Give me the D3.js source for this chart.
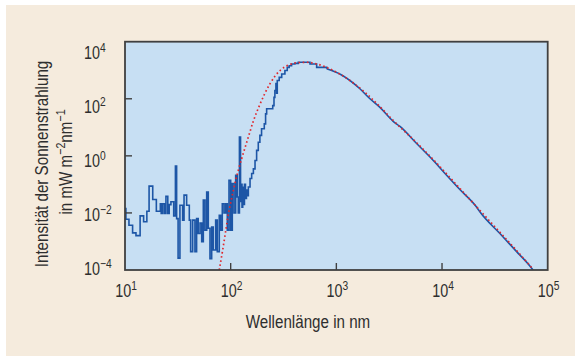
<!DOCTYPE html>
<html><head><meta charset="utf-8">
<script src="https://cdn.jsdelivr.net/npm/d3@7"></script>
<style>
html,body{margin:0;padding:0;background:#fff;}
svg{display:block;}
text{font-family:"Liberation Sans","Arial",sans-serif;fill:#2e2e2e;}
</style>
</head><body>
<svg id="c" width="575" height="356"></svg>
<script>
// ---- data (wavelength in nm, intensity in mW m^-2 nm^-1) ----
const xTickExponents = [1, 2, 3, 4, 5];
const yTickExponents = [4, 2, 0, -2, -4];
const xTitle = "Wellenlänge in nm";
const yTitleLine1 = "Intensität der Sonnenstrahlung";

// measured solar spectrum, step-wise part (UV / visible)
const stepWavelengths = [10, 10.2, 10.9, 11.8, 12.7, 13.9, 15.0, 16.1, 16.9, 18.3, 19.8, 21.6, 22.0, 22.7, 23.6, 24.4, 25.4, 26.2, 27.2, 28.9,
  30.0, 30.8, 31.8, 33.1, 35.1, 36.2, 38.3, 40.6, 41.8, 43.7, 45.9, 47.6, 49.3, 51.3, 53.2, 55.1, 57.1, 59.3, 61.4, 63.7,
  66.1, 68.4, 72.1, 74.7, 78.0, 80.4, 83.3, 86.5, 89.7, 92.9, 96.4, 100, 103.6, 107.5, 111.5, 115.3, 118, 121, 124, 126,
  128, 130, 132, 135, 138, 141, 144, 147, 152.5, 158, 164, 170, 176, 182.5, 189, 196, 208, 214, 219, 250,
  257, 262, 268, 272, 276, 288, 304, 326, 343, 358, 377, 405, 436, 563, 651, 810];
const stepValues = [1.41e-2, 6.0e-3, 3.7e-3, 2.0e-3, 1.6e-3, 7.9e-3, 4.9e-3, 1.15e-2, 8.7e-2, 2.95e-2, 1.15e-2, 2.1e-2, 9.5e-3, 2.1e-2, 9.5e-3, 3.8e-2, 9.5e-3, 1.95e-2, 2.45e-2, 7.9e-3,
  0.44, 6.3e-3, 2.6e-4, 1.86e-2, 5.6e-3, 4.2e-2, 1.86e-2, 5.6e-3, 4.4e-4, 5.6e-3, 4.4e-4, 6.3e-3, 1.9e-3, 4.4e-3, 9.8e-4, 2.8e-2, 2.5e-3, 5.4e-2, 2.9e-3, 2.5e-4,
  3.2e-3, 5.0e-4, 5.6e-3, 4.4e-4, 8.3e-3, 2.5e-3, 2.1e-2, 1.0e-2, 2.1e-2, 2.5e-3, 0.138, 2.5e-3, 0.107, 1.0e-2, 0.21, 3.6e-2, 1.0e-2, 4.6, 2.5e-2, 0.1,
  1.6e-2, 7.9e-2, 2.0e-2, 0.1, 3.2e-2, 6.3e-2, 4.0e-2, 8.1e-2, 0.16, 0.24, 0.35, 0.69, 1.55, 3.0, 5.2, 8.9, 13.2, 29.5, 44.7, 57.5,
  112, 195, 339, 158, 437, 562, 741, 977, 1259, 1445, 1660, 1738, 1905, 1660, 1259, 1122];

// measured solar spectrum, smooth infrared tail
const tailWavelengths = [810, 1100, 1670, 2080, 2585, 3450, 4000, 5750, 8260, 11050, 14750, 21200, 22800, 35300, 50800, 70500, 72500];
const tailValues = [1122, 708, 224, 100, 50, 16.2, 10.7, 2.7, 0.69, 0.21, 0.066, 0.0162, 0.011, 0.0019, 4.4e-4, 1.15e-4, 1.0e-4];

// black body comparison curve (dotted)
const bbWavelengths = [78, 84, 90, 95, 100, 106, 118, 127, 147, 164, 189, 235, 293, 364, 421, 523, 651, 936, 1345, 1936, 2585, 3450, 5750, 8260, 14750, 22800, 35300, 50800, 73000];
const bbValues = [1.0e-4, 5.0e-4, 2.5e-3, 8.9e-3, 2.24e-2, 6.2e-2, 0.31, 0.79, 4.57, 16.6, 63, 331, 977, 1585, 1820, 1905, 1660, 977, 437, 148, 52.5, 17.4, 2.88, 0.74, 0.072, 0.0123, 2.1e-3, 4.8e-4, 1.05e-4];

// ---- drawing ----
const svg = d3.select("#c");
const W = 575, H = 356;
const plot = {left: 125, right: 547.7, top: 41.7, bottom: 270};
const NARROW = 0.82; // horizontal squeeze to imitate a condensed face

const x = d3.scaleLog().domain([1e1, 1e5]).range([plot.left, plot.right]);
const y = d3.scaleLog().domain([1e-4, 1e4]).range([plot.bottom, plot.top]);
// label placement scale for the y tick labels
const yLab = d3.scaleLog().domain([1e-4, 1e4]).range([269, 53]);

svg.append("rect").attr("x", 6).attr("y", 5).attr("width", W - 6).attr("height", H - 5).attr("fill", "#f5ebdd");
svg.append("rect").attr("x", plot.left).attr("y", plot.top)
  .attr("width", plot.right - plot.left).attr("height", plot.bottom - plot.top).attr("fill", "#c7dff3");

svg.append("clipPath").attr("id", "clip").append("rect")
  .attr("x", plot.left).attr("y", plot.top)
  .attr("width", plot.right - plot.left).attr("height", plot.bottom - plot.top);

const g = svg.append("g").attr("clip-path", "url(#clip)");

const stepData = stepWavelengths.map((w, i) => [w, stepValues[i]]);
const tailData = tailWavelengths.map((w, i) => [w, tailValues[i]]);
const bbData = bbWavelengths.map((w, i) => [w, bbValues[i]]);

g.append("path").datum(stepData)
  .attr("d", d3.line().x(d => x(d[0])).y(d => y(d[1])).curve(d3.curveStepAfter))
  .attr("fill", "none").attr("stroke", "#1d56a6").attr("stroke-width", 1.6).attr("stroke-linejoin", "miter");
g.append("path").datum(tailData)
  .attr("d", d3.line().x(d => x(d[0])).y(d => y(d[1])).curve(d3.curveMonotoneX))
  .attr("fill", "none").attr("stroke", "#1d56a6").attr("stroke-width", 1.6);
g.append("path").datum(bbData)
  .attr("d", d3.line().x(d => x(d[0])).y(d => y(d[1])).curve(d3.curveMonotoneX))
  .attr("fill", "none").attr("stroke", "#e0262b").attr("stroke-width", 1.7).attr("stroke-dasharray", "1.6,2.6");

// frame
svg.append("rect").attr("x", plot.left).attr("y", plot.top)
  .attr("width", plot.right - plot.left).attr("height", plot.bottom - plot.top)
  .attr("fill", "none").attr("stroke", "#404040").attr("stroke-width", 1.8);

// inner ticks
const tickColor = "#404040";
[2, 3, 4].forEach(e => {
  svg.append("line").attr("x1", x(10 ** e)).attr("x2", x(10 ** e))
    .attr("y1", plot.bottom).attr("y2", plot.bottom - 7).attr("stroke", tickColor).attr("stroke-width", 1.4);
});
[2, 0, -2].forEach(e => {
  svg.append("line").attr("x1", plot.left).attr("x2", plot.left + 7)
    .attr("y1", y(10 ** e)).attr("y2", y(10 ** e)).attr("stroke", tickColor).attr("stroke-width", 1.4);
});

function powLabel(sel, e) {
  sel.append("tspan").text("10");
  sel.append("tspan").attr("dy", -7).attr("font-size", 12.5).text(String(e).replace("-", "\u2212"));
}
function narrowText(tx, ty, rot) {
  return svg.append("g")
    .attr("transform", `translate(${tx},${ty})${rot ? " rotate(" + rot + ")" : ""} scale(${NARROW},1)`)
    .append("text");
}

xTickExponents.forEach(e => {
  const t = narrowText(x(10 ** e) + 1, 297).attr("text-anchor", "middle").attr("font-size", 17.5);
  powLabel(t, e);
});
yTickExponents.forEach(e => {
  const t = narrowText(84, yLab(10 ** e) + 6).attr("text-anchor", "start").attr("font-size", 17.5);
  powLabel(t, e);
});

narrowText(308, 328).attr("text-anchor", "middle").attr("font-size", 18.5).text(xTitle);

narrowText(48, 164, -90).attr("text-anchor", "middle").attr("font-size", 18.5).text(yTitleLine1);
const yt2 = narrowText(72, 162, -90).attr("text-anchor", "middle").attr("font-size", 18.5);
yt2.append("tspan").text("in mW m");
yt2.append("tspan").attr("dy", -7).attr("font-size", 13).text("\u22122");
yt2.append("tspan").attr("dy", 7).text("nm");
yt2.append("tspan").attr("dy", -7).attr("font-size", 13).text("\u22121");
</script>
</body></html>
